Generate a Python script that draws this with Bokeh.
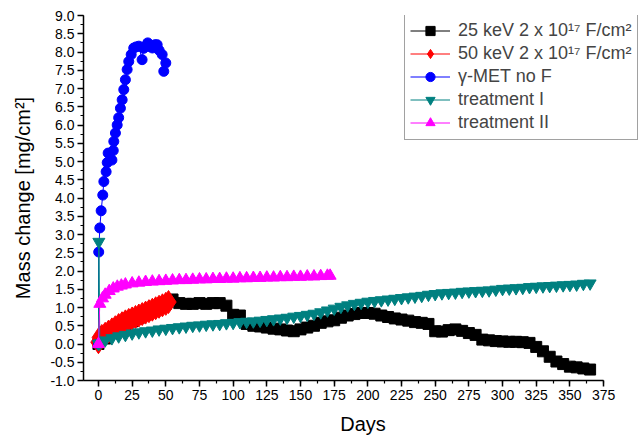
from bokeh.plotting import figure
from bokeh.embed import file_html
from bokeh.resources import INLINE
from bokeh.models import Range1d, SingleIntervalTicker, FixedTicker, NumeralTickFormatter, Legend, LegendItem

# ---- data ----
days_25 = [0, 5, 10, 15, 20, 25, 30, 35, 40, 45, 50, 55, 60, 65, 70, 75, 80, 85, 90, 95,
           100, 105, 110, 115, 120, 125, 130, 135, 140, 145, 150, 155, 160, 165, 170, 175,
           180, 185, 190, 195, 200, 205, 210, 215, 220, 225, 230, 235, 240, 245, 250, 255,
           260, 265, 270, 275, 280, 285, 290, 295, 300, 305, 310, 315, 320, 325, 330, 335,
           340, 345, 350, 355, 360, 365]
mass_25 = [0.0, 0.15, 0.3, 0.42, 0.52, 0.62, 0.72, 0.82, 0.92, 1.0, 1.1, 1.22, 1.12, 1.1,
           1.1, 1.12, 1.1, 1.12, 1.12, 1.05, 0.8, 0.78, 0.55, 0.5, 0.48, 0.45, 0.42, 0.4,
           0.37, 0.35, 0.4, 0.45, 0.5, 0.58, 0.62, 0.65, 0.72, 0.78, 0.82, 0.85, 0.85, 0.83,
           0.78, 0.74, 0.7, 0.67, 0.64, 0.6, 0.58, 0.55, 0.35, 0.34, 0.38, 0.4, 0.36, 0.3,
           0.25, 0.12, 0.1, 0.08, 0.07, 0.06, 0.06, 0.05, 0.03, -0.08, -0.2, -0.35, -0.48,
           -0.55, -0.62, -0.64, -0.67, -0.7]

days_50 = [0, 1, 2.5, 5, 7.5, 10, 12.5, 15, 17.5, 20, 22.5, 25, 27.5, 30, 32.5, 35, 37.5,
           40, 42.5, 45, 47.5, 50, 52]
mass_50 = [0.05, 0.18, 0.22, 0.28, 0.34, 0.4, 0.46, 0.52, 0.57, 0.62, 0.66, 0.7, 0.74,
           0.78, 0.82, 0.86, 0.9, 0.94, 0.98, 1.02, 1.06, 1.1, 1.15]

days_met = [0, 0.2, 1, 2, 3.2, 4, 5.7, 6.5, 7.2, 10, 11, 11.4, 12.6, 13.9, 15, 16.3, 17.6,
            18.8, 20, 21.3, 22.5, 24.3, 26.2, 28, 30, 32.4, 33.5, 35, 36.6, 38, 40, 42,
            43.6, 45, 47.3, 48.5, 50]
mass_met = [0.0, 2.52, 3.18, 3.65, 4.08, 4.45, 4.72, 4.97, 5.23, 5.04, 5.3, 5.55, 5.78,
            6.0, 6.2, 6.46, 6.69, 6.97, 7.24, 7.52, 7.74, 7.93, 8.11, 8.14, 8.16, 7.79,
            8.1, 8.16, 8.25, 8.15, 8.11, 8.2, 8.2, 8.05, 7.93, 7.47, 7.7]

days_t1 = [0, 0.3, 1, 5, 10, 15, 20, 25, 30, 35, 40, 45, 50, 55, 60, 65, 70, 75, 80, 85,
           90, 95, 100, 105, 110, 115, 120, 125, 130, 135, 140, 145, 150, 155, 160, 165,
           170, 175, 180, 185, 190, 195, 200, 205, 210, 215, 220, 225, 230, 235, 240, 245,
           250, 255, 260, 265, 270, 275, 280, 285, 290, 295, 300, 305, 310, 315, 320, 325,
           330, 335, 340, 345, 350, 355, 360, 365]
mass_t1 = [0.0, 2.8, 0.02, 0.1, 0.16, 0.21, 0.25, 0.29, 0.32, 0.35, 0.37, 0.4, 0.42, 0.44,
           0.46, 0.48, 0.5, 0.51, 0.53, 0.54, 0.55, 0.57, 0.58, 0.6, 0.61, 0.62, 0.64,
           0.66, 0.68, 0.7, 0.72, 0.75, 0.77, 0.8, 0.83, 0.87, 0.92, 0.97, 1.02, 1.06, 1.1,
           1.13, 1.16, 1.18, 1.2, 1.22, 1.24, 1.26, 1.28, 1.3, 1.32, 1.35, 1.37, 1.39, 1.4,
           1.41, 1.43, 1.44, 1.45, 1.46, 1.47, 1.49, 1.51, 1.52, 1.53, 1.54, 1.56, 1.57,
           1.58, 1.59, 1.6, 1.61, 1.62, 1.63, 1.65, 1.66]

days_t2 = [0, 1, 3, 5, 8, 11, 14, 17, 20, 25, 30, 35, 40, 45, 50, 55, 60, 65, 70, 75, 80,
           85, 90, 95, 100, 105, 110, 115, 120, 125, 130, 135, 140, 145, 150, 155, 160,
           165, 170, 172]
mass_t2 = [0.0, 1.1, 1.25, 1.35, 1.45, 1.52, 1.57, 1.6, 1.63, 1.66, 1.68, 1.7, 1.71, 1.72,
           1.73, 1.74, 1.75, 1.75, 1.76, 1.77, 1.77, 1.78, 1.78, 1.79, 1.79, 1.8, 1.8,
           1.81, 1.81, 1.82, 1.82, 1.83, 1.83, 1.84, 1.84, 1.85, 1.85, 1.86, 1.87, 1.87]

series = [
    ("25 keV 2 x 10\u00b9\u2077 F/cm\u00b2", days_25, mass_25, "#000000", "square", 11),
    ("50 keV 2 x 10\u00b9\u2077 F/cm\u00b2", days_50, mass_50, "#ff0000", "diamond", 23),
    ("\u03b3-MET no F", days_met, mass_met, "#0000ff", "circle", 10),
    ("treatment I", days_t1, mass_t1, "#008080", "inverted_triangle", 12),
    ("treatment II", days_t2, mass_t2, "#ff00ff", "triangle", 12),
]

x_axis_start, x_axis_end = -11.1, 375
x_view_end = 403.9
x_major = list(range(0, 376, 25))
x_minor = [i * 12.5 for i in range(0, 31)]
y_ticks_interval = 0.5

FONT = "Liberation Sans"

p = figure(frame_width=559, frame_height=365, output_backend="svg", toolbar_location=None,
           x_range=Range1d(x_axis_start, x_view_end), y_range=Range1d(-1.0, 9.0),
           min_border_left=83, min_border_right=0, min_border_top=15, min_border_bottom=57)
p.outline_line_color = None
p.grid.visible = False
p.background_fill_color = "white"

items = []
for label, xs, ys, color, marker, size in series:
    r1 = p.line(xs, ys, line_color=color, line_width=1)
    r2 = p.scatter(xs, ys, marker=marker, size=size, fill_color=color, line_color=color)
    items.append(LegendItem(label=label, renderers=[r1, r2]))

for ax in (p.xaxis[0], p.yaxis[0]):
    ax.axis_line_width = 1.5
    ax.axis_line_color = "black"
    ax.major_tick_line_color = "black"
    ax.minor_tick_line_color = "black"
    ax.major_tick_line_width = 1.5
    ax.minor_tick_line_width = 1.2
    ax.major_tick_in = 0
    ax.major_tick_out = 6
    ax.minor_tick_in = 0
    ax.minor_tick_out = 3
    ax.major_label_text_font = FONT
    ax.major_label_text_font_size = "14px"
    ax.major_label_text_color = "black"
    ax.axis_label_text_font = FONT
    ax.axis_label_text_font_size = "20px"
    ax.axis_label_text_font_style = "normal"
    ax.axis_label_text_color = "black"

p.xaxis.ticker = FixedTicker(ticks=x_major, minor_ticks=x_minor)
p.xaxis.bounds = (x_axis_start, x_axis_end)
p.yaxis.ticker = SingleIntervalTicker(interval=y_ticks_interval, num_minor_ticks=2)
p.yaxis.formatter = NumeralTickFormatter(format="0.0")
p.xaxis.axis_label = "Days"
p.yaxis.axis_label = "Mass change [mg/cm\u00b2]"
p.xaxis.major_label_standoff = 3
p.yaxis.major_label_standoff = 3
p.xaxis.axis_label_standoff = 10
p.yaxis.axis_label_standoff = 13

legend = Legend(items=items, location=(321, 240))
legend.label_text_font = FONT
legend.label_text_font_size = "18px"
legend.label_height = 23
legend.glyph_height = 23
legend.glyph_width = 40
legend.label_standoff = 8
legend.spacing = 0
legend.padding = 5
legend.margin = 0
legend.border_line_color = "#444444"
legend.border_line_width = 1
legend.background_fill_color = "white"
p.add_layout(legend, "center")

open("out.html", "w").write(file_html(p, INLINE))
